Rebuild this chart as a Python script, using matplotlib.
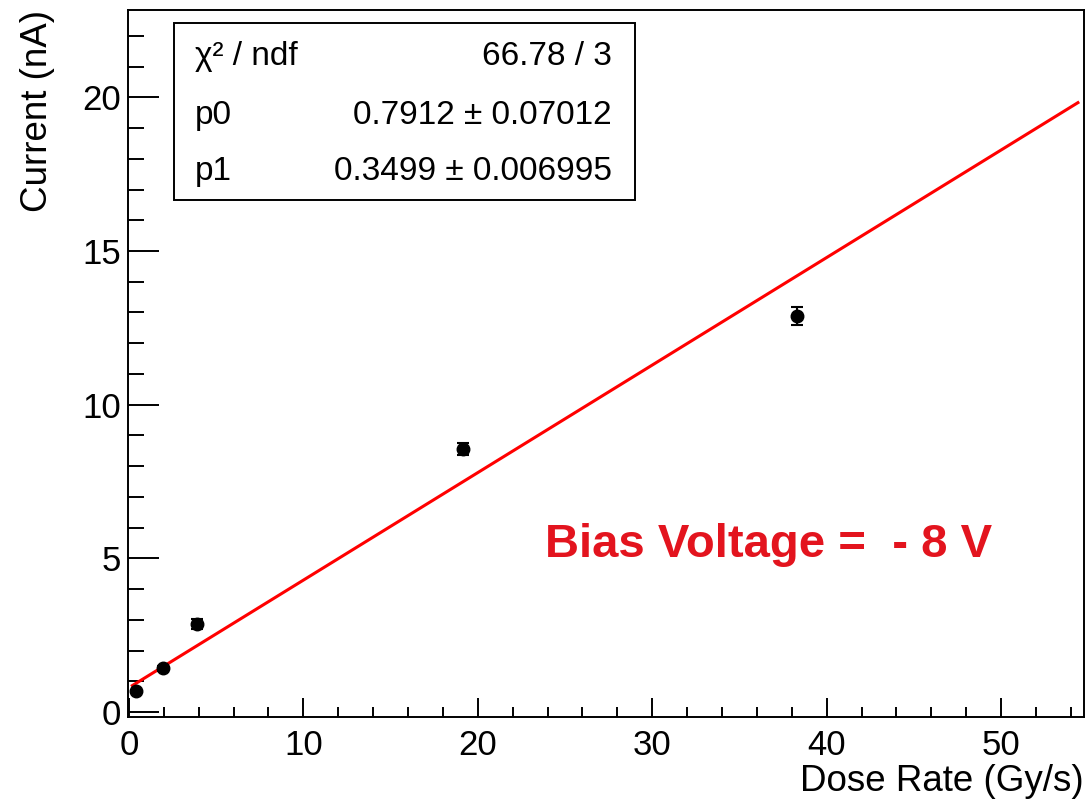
import numpy as np
import matplotlib
matplotlib.use("Agg")
import matplotlib.pyplot as plt
from matplotlib.ticker import MultipleLocator
from matplotlib.patches import Rectangle

plt.rcParams.update({
    "font.family": ["Liberation Sans", "DejaVu Sans"],
    "font.size": 25,
    "axes.linewidth": 1.4,
})

# measured points
dose_rate = [0.4, 1.93, 3.9, 19.13, 38.3]
current = [0.68, 1.43, 2.86, 8.56, 12.88]
current_err = [0.05, 0.08, 0.17, 0.2, 0.29]

# linear fit p0 + p1*x
p0, p0_err = 0.7912, 0.07012
p1, p1_err = 0.3499, 0.006995
chi2, ndf = 66.78, 3
fit_range = [0.2, 54.4]

fig = plt.figure(figsize=(10.91, 8.0), dpi=100)
ax = fig.add_axes([0.1173, 0.1038, 0.8763, 0.8837])

xf = np.array(fit_range)
ax.plot(xf, p0 + p1 * xf, color="#ff0000", lw=2.2, zorder=2)

ax.errorbar(dose_rate, current, yerr=current_err, fmt="o", color="black",
            ms=9, elinewidth=1.5, capsize=4, capthick=1.5, zorder=3)

ax.set_xlim(-0.05, 54.75)
ax.set_ylim(-0.16, 22.84)

ax.xaxis.set_major_locator(MultipleLocator(10))
ax.xaxis.set_minor_locator(MultipleLocator(2))
ax.yaxis.set_major_locator(MultipleLocator(5))
ax.yaxis.set_minor_locator(MultipleLocator(1))
ax.tick_params(axis="both", which="both", direction="in", width=1.4,
               top=False, right=False, labelsize=25)
ax.tick_params(axis="x", which="major", length=13.7, pad=9)
ax.tick_params(axis="x", which="minor", length=7)
ax.tick_params(axis="y", which="major", length=22, pad=5)
ax.tick_params(axis="y", which="minor", length=11.5)

ax.set_xlabel("Dose Rate (Gy/s)", fontsize=26.5, loc="right", labelpad=1)
ax.set_ylabel("Current (nA)", fontsize=26.5, loc="top", labelpad=20)

# fit statistics box
ax.add_patch(Rectangle((0.048, 0.731), 0.482, 0.251, transform=ax.transAxes,
                       facecolor="white", edgecolor="black", lw=1.4, zorder=5))
rows = [
    ("χ² / ndf", f"{chi2:.2f} / {ndf}"),
    ("p0", f"{p0:.4f} ± {p0_err:.5f}"),
    ("p1", f"{p1:.4f} ± {p1_err:.6f}"),
]
row_y = [0.934, 0.851, 0.771]
for (lab, val), yy in zip(rows, row_y):
    ax.text(0.070, yy, lab, transform=ax.transAxes, fontsize=24,
            ha="left", va="center", zorder=6)
    ax.text(0.506, yy, val, transform=ax.transAxes, fontsize=24,
            ha="right", va="center", zorder=6)

ax.text(0.436, 0.226, "Bias Voltage =  - 8 V", transform=ax.transAxes,
        fontsize=34, fontweight="bold", color="#e3141e", ha="left",
        va="baseline")

fig.savefig("out.png", dpi=100)
